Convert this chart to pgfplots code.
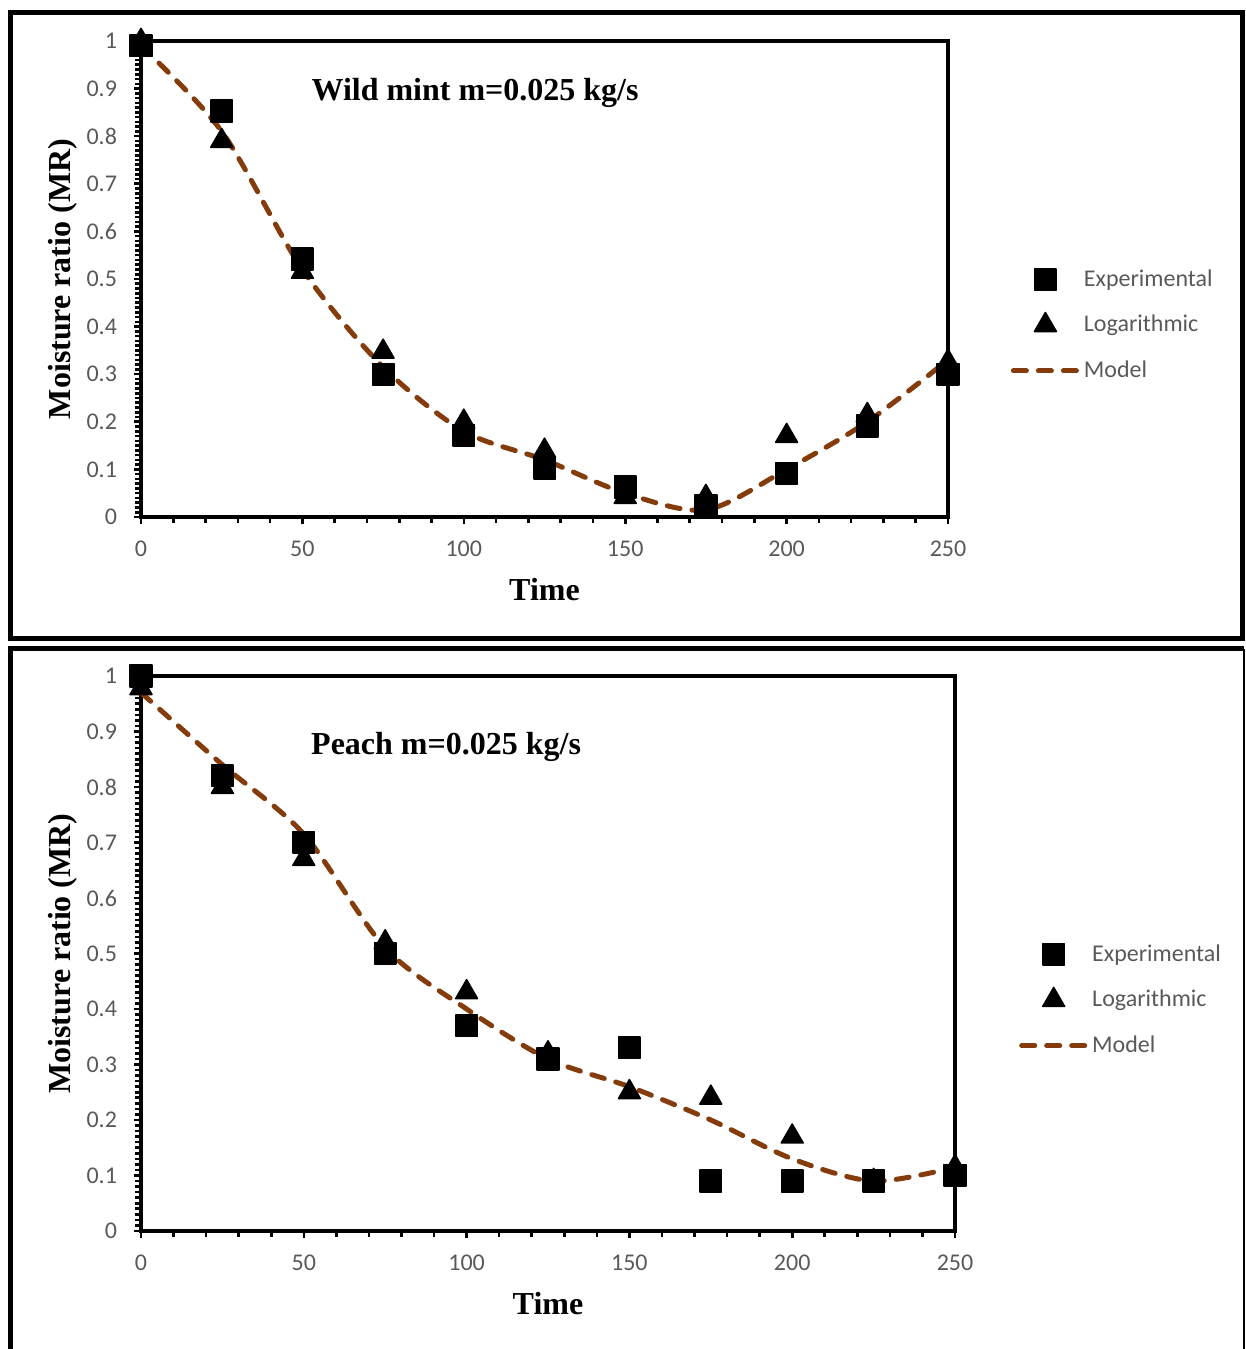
\documentclass[border=0pt]{standalone}
\usepackage{fontspec}
\setmainfont{Liberation Serif}
\newfontfamily\calibri{Carlito}
\usepackage{pgfplots}
\pgfplotsset{compat=1.18}
\definecolor{tickgray}{RGB}{89,89,89}
\definecolor{modelbrown}{RGB}{132,60,12}

\pgfplotsset{
  mrstyle/.style={
    scale only axis,
    xmin=0, xmax=250, ymin=0, ymax=1,
    xtick={0,50,100,150,200,250},
    ytick={0,0.1,0.2,0.3,0.4,0.5,0.6,0.7,0.8,0.9,1},
    minor x tick num=4, minor y tick num=9,
    tick pos=left, tick align=outside,
    axis line style={line width=2pt},
    every tick/.style={black, line width=1.3pt},
    major tick length=3.5pt, minor tick length=3pt,
    ticklabel style={font=\calibri\fontsize{12}{14}\selectfont, text=tickgray},
    xticklabel style={yshift=-5pt},
    yticklabel style={xshift=-5pt, /pgf/number format/fixed},
    /pgf/number format/assume math mode=true,
    xlabel={Time}, ylabel={Moisture ratio (MR)},
    label style={font=\fontsize{16}{19}\selectfont\bfseries},
    xlabel style={at={(axis description cs:0.5,0)}, anchor=center, yshift=-36.5pt},
    ylabel style={at={(axis description cs:0,0.5)}, anchor=center, yshift=39pt},
    clip=false,
    legend style={draw=none, fill=none, font=\calibri\fontsize{12}{14}\selectfont,
      text=tickgray, row sep=9pt, anchor=west, cells={anchor=west}},
    legend image code/.code={\draw[mark repeat=2,mark phase=2,##1]
      plot coordinates {(0pt,0pt) (16pt,0pt) (32pt,0pt)};},
  },
  expstyle/.style={only marks, mark=square*, mark size=5.4pt,
    mark options={fill=black, draw=black, line width=0.8pt, line join=round}},
  logstyle/.style={only marks, mark=triangle*, mark size=6.3pt,
    mark options={fill=black, draw=black, line width=0.8pt, line join=round}},
  modstyle/.style={modelbrown, line width=2.5pt, line cap=round,
    dash pattern=on 6.5pt off 6pt, smooth, no marks},
}

\begin{document}
\begin{tikzpicture}
\useasboundingbox (0pt,0pt) rectangle (623pt,674.5pt);
% panel frames
\draw[line width=2.5pt] (5.25pt,668.25pt) rectangle (621pt,355pt);
\draw[line width=2.5pt] (5pt,0pt) -- (5pt,350pt) -- (622pt,350pt);
\draw[line width=0.7pt] (622pt,350pt) -- (622pt,0pt);

% top panel
\begin{axis}[mrstyle, at={(70.5pt,416pt)}, anchor=south west,
  width=403.5pt, height=238pt,
  legend style={at={(1.07,0.403)}}]
\addplot[modstyle, forget plot] coordinates {
  (0,0.99) (25,0.81) (50,0.52) (75,0.315) (100,0.18) (125,0.12)
  (150,0.05) (175,0.015) (200,0.10) (225,0.20) (250,0.33)};
\addplot[expstyle] coordinates {
  (0,0.99) (25,0.853) (50,0.542) (75,0.30) (100,0.172) (125,0.103)
  (150,0.063) (175,0.023) (200,0.092) (225,0.191) (250,0.30)};
\addplot[logstyle] coordinates {
  (0,1.0) (25,0.79) (50,0.515) (75,0.347) (100,0.20) (125,0.139)
  (150,0.042) (175,0.042) (200,0.17) (225,0.214) (250,0.326)};
\addlegendimage{modstyle}
\legend{Experimental,Logarithmic,Model}
\node[font=\fontsize{16}{19}\selectfont\bfseries] at (axis cs:103.5,0.89) {Wild mint m=0.025 kg/s};
\end{axis}

% bottom panel
\begin{axis}[mrstyle, at={(70.5pt,59pt)}, anchor=south west,
  width=407pt, height=277.5pt,
  legend style={at={(1.071,0.416)}}]
\addplot[modstyle, forget plot] coordinates {
  (0,0.97) (25,0.84) (50,0.715) (75,0.51) (100,0.40) (125,0.31)
  (150,0.26) (175,0.20) (200,0.13) (225,0.09) (250,0.115)};
\addplot[expstyle] coordinates {
  (0,1.0) (25,0.82) (50,0.70) (75,0.50) (100,0.37) (125,0.31)
  (150,0.33) (175,0.09) (200,0.09) (225,0.09) (250,0.10)};
\addplot[logstyle] coordinates {
  (0,0.978) (25,0.80) (50,0.67) (75,0.52) (100,0.43) (125,0.32)
  (150,0.25) (175,0.24) (200,0.17) (225,0.09) (250,0.115)};
\addlegendimage{modstyle}
\legend{Experimental,Logarithmic,Model}
\node[font=\fontsize{16}{19}\selectfont\bfseries] at (axis cs:93.7,0.873) {Peach m=0.025 kg/s};
\end{axis}
\end{tikzpicture}
\end{document}
